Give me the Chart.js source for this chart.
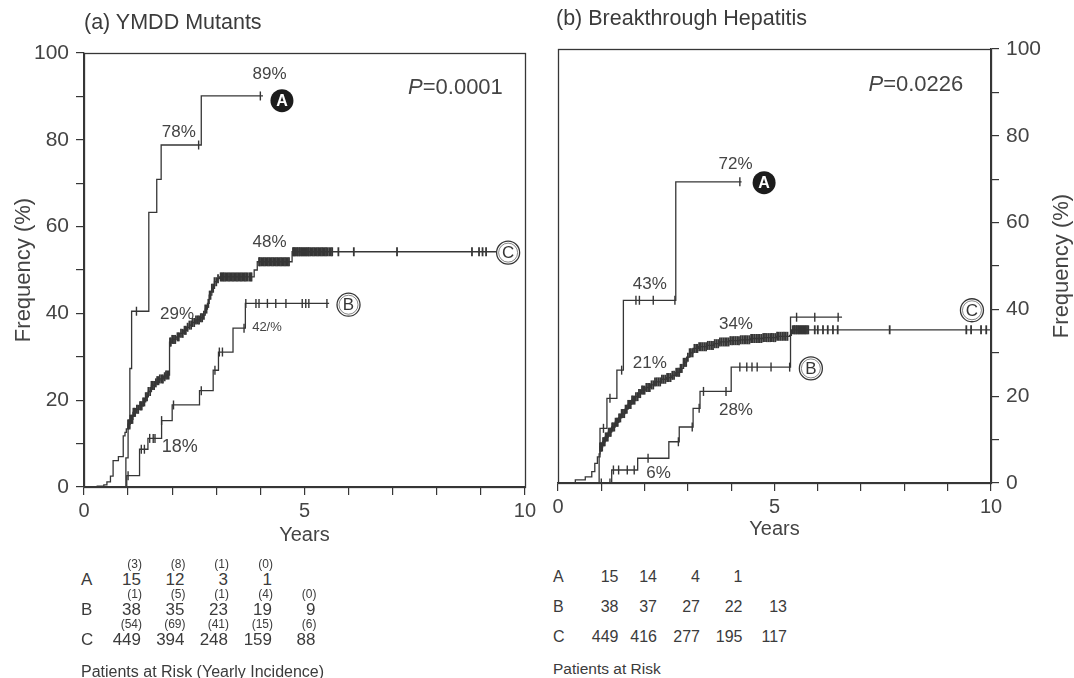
<!DOCTYPE html>
<html><head><meta charset="utf-8">
<script src="https://cdn.jsdelivr.net/npm/chart.js@4.4.1/dist/chart.umd.min.js"></script>
<style>
body{margin:0;background:#fff;width:1074px;height:678px;position:relative;overflow:hidden;font-family:"Liberation Sans",Arial,sans-serif;color:#3b3b3b}
canvas{position:absolute;top:0}
.t{position:absolute;white-space:nowrap;line-height:1}
</style></head><body>
<canvas id="cl" width="540" height="560" style="left:0"></canvas>
<canvas id="cr" width="534" height="560" style="left:540px"></canvas>
<script>
// ===== (a) YMDD Mutants: cumulative frequency (%) by years =====
const mutA_t = [0, 0.95, 1.0, 1.04, 1.08, 1.47, 1.65, 1.75, 2.66];
const mutA_v = [0, 6.7, 13.4, 27.3, 40.5, 63.3, 70.9, 78.8, 90.1];
const mutA_end = 4.06;
const mutA_cens = [1.19, 2.6, 4.0];

const mutB_t = [0, 0.97, 1.26, 1.45, 1.76, 2.0, 2.62, 2.93, 3.05, 3.38, 3.66];
const mutB_v = [0, 2.6, 8.7, 11.2, 15.3, 18.9, 22.2, 26.9, 31.1, 36.6, 42.3];
const mutB_end = 5.56;
const mutB_cens = [1.0, 1.3, 1.37, 1.49, 1.57, 1.61, 1.76, 2.03, 2.66, 2.97, 3.07, 3.14, 3.63, 3.67, 3.9, 3.97, 4.16, 4.35, 4.58, 4.95, 5.03, 5.1, 5.51];

const mutC_t = [0, 0.3, 0.45, 0.52, 0.6, 0.66, 0.78, 0.89, 0.93, 0.96, 1.0, 1.05, 1.11, 1.17, 1.24, 1.34, 1.4, 1.46, 1.53, 1.6, 1.66, 1.72, 1.8, 1.86, 1.94, 2.0, 2.09, 2.17, 2.25, 2.32, 2.39, 2.46, 2.54, 2.62, 2.69, 2.75, 2.8, 2.84, 2.9, 2.96, 3.02, 3.07, 3.86, 3.93, 4.72];
const mutC_v = [0, 0.2, 0.5, 1.2, 2.5, 6.1, 7.0, 11.8, 12.6, 13.4, 14.5, 15.6, 17.2, 17.9, 18.7, 19.6, 20.8, 22.0, 23.4, 24.0, 24.5, 24.9, 25.4, 25.8, 33.4, 34.0, 34.6, 35.4, 36.1, 36.8, 37.3, 37.9, 38.5, 39.0, 39.6, 41.0, 42.3, 44.2, 45.8, 47.3, 48.0, 48.4, 50.0, 51.9, 54.2];
const mutC_end = 9.86;
const mutC_cens = [1.0, 1.01, 1.03, 1.05, 1.07, 1.08, 1.1, 1.12, 1.14, 1.16, 1.2, 1.23, 1.27, 1.29, 1.31, 1.34, 1.37, 1.4, 1.43, 1.46, 1.5, 1.53, 1.56, 1.59, 1.63, 1.66, 1.69, 1.72, 1.76, 1.79, 1.83, 1.86, 1.89, 1.92, 1.95, 1.97, 2.0, 2.04, 2.07, 2.12, 2.15, 2.2, 2.24, 2.28, 2.31, 2.35, 2.39, 2.43, 2.46, 2.5, 2.54, 2.58, 2.61, 2.65, 2.68, 2.72, 2.75, 2.78, 2.82, 2.85, 2.87, 2.9, 2.93, 2.96, 3.0, 3.04, 3.1, 3.12, 3.15, 3.17, 3.2, 3.23, 3.26, 3.29, 3.32, 3.35, 3.38, 3.41, 3.44, 3.47, 3.5, 3.53, 3.56, 3.59, 3.62, 3.65, 3.68, 3.71, 3.75, 3.78, 3.8, 3.97, 3.99, 4.02, 4.05, 4.08, 4.11, 4.14, 4.17, 4.2, 4.23, 4.26, 4.29, 4.32, 4.35, 4.38, 4.41, 4.44, 4.47, 4.5, 4.53, 4.56, 4.59, 4.62, 4.65, 4.74, 4.76, 4.78, 4.8, 4.83, 4.85, 4.88, 4.9, 4.93, 4.95, 4.98, 5.0, 5.03, 5.05, 5.08, 5.1, 5.13, 5.16, 5.19, 5.22, 5.25, 5.28, 5.31, 5.34, 5.37, 5.4, 5.43, 5.46, 5.49, 5.52, 5.56, 5.6, 5.63, 5.77, 6.12, 7.1, 8.8, 8.96, 9.04, 9.12];

// ===== (b) Breakthrough Hepatitis =====
const hepA_t = [0, 0.95, 0.97, 1.13, 1.36, 1.51, 2.72];
const hepA_v = [0, 6.7, 12.6, 19.5, 26.0, 42.1, 69.4];
const hepA_end = 4.24;
const hepA_cens = [1.05, 1.2, 1.47, 1.8, 1.88, 2.2, 2.7, 4.2];

const hepB_t = [0, 1.24, 1.84, 2.56, 2.8, 3.12, 3.28, 4.0, 5.37];
const hepB_v = [0, 3.0, 5.7, 9.5, 12.9, 17.2, 21.1, 26.7, 38.2];
const hepB_end = 6.56;
const hepB_cens = [1.0, 1.2, 1.28, 1.4, 1.6, 1.76, 2.08, 2.78, 3.1, 3.26, 3.36, 3.88, 4.2, 4.36, 4.48, 4.6, 4.92, 5.35, 5.51, 5.93, 6.47];

const hepC_t = [0, 0.4, 0.63, 0.78, 0.85, 0.91, 0.97, 1.03, 1.09, 1.16, 1.24, 1.32, 1.4, 1.47, 1.55, 1.62, 1.7, 1.78, 1.85, 1.93, 2.03, 2.13, 2.24, 2.37, 2.5, 2.63, 2.72, 2.82, 2.9, 2.97, 3.04, 3.12, 3.25, 3.43, 3.6, 3.74, 3.95, 4.2, 4.45, 4.74, 5.05, 5.35, 5.39];
const hepC_v = [0, 0.7, 1.4, 2.6, 4.5, 6.0, 8.3, 9.5, 10.6, 11.7, 12.9, 14.0, 15.0, 16.0, 17.0, 18.1, 19.1, 19.9, 20.6, 21.4, 22.0, 22.6, 23.3, 23.9, 24.3, 24.8, 25.5, 26.4, 27.8, 29.0, 30.0, 31.0, 31.4, 31.7, 32.1, 32.5, 32.8, 33.0, 33.3, 33.5, 33.8, 34.0, 35.3];
const hepC_end = 10.0;
const hepC_cens = [0.97, 0.99, 1.0, 1.02, 1.04, 1.06, 1.08, 1.1, 1.12, 1.15, 1.17, 1.2, 1.22, 1.25, 1.27, 1.3, 1.33, 1.36, 1.38, 1.41, 1.44, 1.47, 1.5, 1.53, 1.56, 1.59, 1.62, 1.65, 1.68, 1.71, 1.74, 1.77, 1.8, 1.84, 1.87, 1.9, 1.94, 1.97, 2.0, 2.04, 2.08, 2.12, 2.16, 2.2, 2.24, 2.28, 2.32, 2.36, 2.4, 2.44, 2.48, 2.52, 2.56, 2.6, 2.64, 2.68, 2.73, 2.77, 2.8, 2.83, 2.86, 2.9, 2.93, 2.96, 3.0, 3.04, 3.07, 3.11, 3.15, 3.19, 3.22, 3.26, 3.3, 3.34, 3.38, 3.42, 3.46, 3.5, 3.54, 3.58, 3.62, 3.66, 3.7, 3.74, 3.78, 3.82, 3.86, 3.9, 3.94, 3.98, 4.02, 4.06, 4.1, 4.14, 4.18, 4.22, 4.26, 4.3, 4.34, 4.38, 4.42, 4.46, 4.5, 4.54, 4.58, 4.62, 4.66, 4.7, 4.74, 4.78, 4.82, 4.86, 4.9, 4.94, 4.98, 5.02, 5.06, 5.1, 5.14, 5.18, 5.22, 5.26, 5.3, 5.42, 5.45, 5.47, 5.5, 5.52, 5.55, 5.57, 5.6, 5.62, 5.65, 5.67, 5.7, 5.72, 5.75, 5.78, 5.93, 6.0, 6.12, 6.23, 6.35, 6.46, 7.66, 9.43, 9.54, 9.77, 9.89];

// ===== Patients at risk tables =====
const riskRows = ['A', 'B', 'C'];
const riskA_a = [15, 12, 3, 1];        const incA_a = [3, 8, 1, 0];
const riskB_a = [38, 35, 23, 19, 9];   const incB_a = [1, 5, 1, 4, 0];
const riskC_a = [449, 394, 248, 159, 88]; const incC_a = [54, 69, 41, 15, 6];
const riskA_b = [15, 14, 4, 1];
const riskB_b = [38, 37, 27, 22, 13];
const riskC_b = [449, 416, 277, 195, 117];

// ---------------------------------------------------------------
const FONT = '"Liberation Sans", Arial, sans-serif';
const INK = '#363636';
Chart.defaults.font.family = FONT;
Chart.defaults.color = INK;

function stepPoints(T, V, end) {
  const pts = T.map((t, i) => ({x: t, y: V[i]}));
  pts.push({x: end, y: V[V.length - 1]});
  return pts;
}
function levelAt(T, V, t) { let v = V[0]; for (let i = 0; i < T.length; i++) if (T[i] <= t) v = V[i]; return v; }
function curveSets(T, V, end, C, w) {
  return [
    {data: stepPoints(T, V, end), stepped: 'before', borderColor: INK, borderWidth: 1.3, pointRadius: 0, fill: false},
    {data: C.map(t => ({x: t, y: levelAt(T, V, t)})), showLine: false, pointStyle: 'line', rotation: 90,
     pointRadius: 4.5, pointHoverRadius: 4.5, borderColor: INK, pointBorderColor: INK, borderWidth: w, pointBorderWidth: w}
  ];
}

const annotPlugin = {
  id: 'annot',
  afterDatasetsDraw(chart, args, o) {
    const {ctx, chartArea: a, scales: {x, y}} = chart;
    ctx.save();
    ctx.strokeStyle = INK; ctx.lineWidth = 1.3;
    ctx.strokeRect(Math.round(a.left) + 0.5, Math.round(a.top) + 0.5, Math.round(a.right - a.left), Math.round(a.bottom - a.top));
    ctx.textAlign = 'center'; ctx.textBaseline = 'middle';
    (o.texts || []).forEach(([s, tx, ty, size]) => {
      ctx.fillStyle = '#444'; ctx.font = size + 'px ' + FONT;
      ctx.fillText(s, x.getPixelForValue(tx), y.getPixelForValue(ty));
    });
    (o.marks || []).forEach(([s, tx, ty, filled]) => {
      const px = x.getPixelForValue(tx), py = y.getPixelForValue(ty);
      ctx.beginPath(); ctx.arc(px, py, 11.5, 0, Math.PI * 2);
      if (filled) { ctx.fillStyle = '#1c1c1c'; ctx.fill(); ctx.fillStyle = '#fff'; ctx.font = 'bold 16px ' + FONT; }
      else {
        ctx.fillStyle = '#fff'; ctx.fill(); ctx.lineWidth = 1.3; ctx.strokeStyle = INK; ctx.stroke();
        ctx.beginPath(); ctx.arc(px, py, 9.5, 0, Math.PI * 2); ctx.lineWidth = 0.6; ctx.stroke();
        ctx.fillStyle = INK; ctx.font = '17px ' + FONT;
      }
      ctx.fillText(s, px, py + 1);
    });
    if (o.pval) {
      const [txt, tx, ty] = o.pval;
      const px = x.getPixelForValue(tx), py = y.getPixelForValue(ty);
      ctx.textAlign = 'left'; ctx.fillStyle = '#444';
      ctx.font = '22px ' + FONT; const w2 = ctx.measureText(txt).width;
      ctx.font = 'italic 22px ' + FONT; const w1 = ctx.measureText('P').width;
      ctx.fillText('P', px - w1 - w2, py);
      ctx.font = '22px ' + FONT; ctx.fillText(txt, px - w2, py);
    }
    if (o.sideTitle) {
      const [txt, cx] = o.sideTitle;
      ctx.translate(cx, (a.top + a.bottom) / 2); ctx.rotate(-Math.PI / 2);
      ctx.textAlign = 'center'; ctx.fillStyle = '#444'; ctx.font = '22px ' + FONT;
      ctx.fillText(txt, 0, 0);
    }
    ctx.restore();
  }
};

function makeChart(id, sets, cfg) {
  return new Chart(document.getElementById(id), {
    type: 'line',
    data: {datasets: sets},
    plugins: [annotPlugin],
    options: {
      responsive: false, maintainAspectRatio: false, animation: false,
      layout: {padding: cfg.padding},
      plugins: {legend: {display: false}, tooltip: {enabled: false}, annot: cfg.annot},
      scales: {
        x: {type: 'linear', min: 0, max: 10,
            afterFit(s) { s.height = cfg.xh; },
            ticks: {stepSize: 1, autoSkip: false, maxRotation: 0, padding: 4, font: {size: 20}, color: '#444',
                    callback: v => (v % 5 === 0 ? String(v) : '')},
            grid: {drawOnChartArea: false, drawTicks: true, tickLength: 8, color: INK, lineWidth: 1.2},
            border: {display: true, color: INK, width: 1.3},
            title: {display: true, text: 'Years', font: {size: 20}, color: '#444', padding: {top: 0, bottom: cfg.xtpad}}},
        y: {type: 'linear', min: 0, max: 100, position: cfg.ypos,
            afterFit(s) { s.width = cfg.yw; },
            ticks: {stepSize: 10, autoSkip: false, padding: 7, font: {size: 21}, color: '#444',
                    callback: v => (v % 20 === 0 ? String(v) : '')},
            grid: {drawOnChartArea: false, drawTicks: true, tickLength: 8, color: INK, lineWidth: 1.2},
            border: {display: true, color: INK, width: 1.3},
            title: {display: cfg.ypos === 'left', text: 'Frequency (%)', font: {size: 22}, color: '#444', padding: {top: 11, bottom: 0}}}
      }
    }
  });
}

makeChart('cl', [
  ...curveSets(mutA_t, mutA_v, mutA_end, mutA_cens, 1.4),
  ...curveSets(mutB_t, mutB_v, mutB_end, mutB_cens, 1.4),
  ...curveSets(mutC_t, mutC_v, mutC_end, mutC_cens, 1.8)
], {
  padding: {left: 0, right: 13, top: 53, bottom: 0}, xh: 73, yw: 84, ypos: 'left', xtpad: 13,
  annot: {
    texts: [['89%', 4.21, 95.2, 17], ['78%', 2.15, 81.7, 17], ['48%', 4.21, 56.3, 17], ['29%', 2.11, 39.7, 17],
            ['42/%', 4.15, 36.7, 13], ['18%', 2.17, 9.3, 18]],
    marks: [['A', 4.49, 89.0, true], ['B', 6.0, 42.0, false], ['C', 9.62, 54.0, false]],
    pval: ['=0.0001', 9.5, 91.9]
  }
});

makeChart('cr', [
  ...curveSets(hepA_t, hepA_v, hepA_end, hepA_cens, 1.4),
  ...curveSets(hepB_t, hepB_v, hepB_end, hepB_cens, 1.4),
  ...curveSets(hepC_t, hepC_v, hepC_end, hepC_cens, 1.8)
], {
  padding: {left: 18, right: 0, top: 49, bottom: 0}, xh: 77, yw: 83, ypos: 'right', xtpad: 19,
  annot: {
    texts: [['72%', 4.1, 73.4, 17], ['43%', 2.12, 45.8, 17], ['21%', 2.12, 27.6, 17], ['34%', 4.11, 36.6, 17],
            ['28%', 4.11, 16.8, 17], ['6%', 2.32, 2.2, 17]],
    marks: [['A', 4.76, 69.2, true], ['B', 5.84, 26.4, false], ['C', 9.56, 39.8, false]],
    pval: ['=0.0226', 9.36, 91.7],
    sideTitle: ['Frequency (%)', 522]
  }
});

// ---------- HTML text: panel titles and at-risk tables ----------
function txt(s, x, y, size, align) {
  const d = document.createElement('div'); d.className = 't'; d.textContent = s;
  d.style.fontSize = size + 'px'; d.style.left = x + 'px'; d.style.top = y + 'px';
  d.style.transform = align === 'right' ? 'translate(-100%,-50%)' : 'translate(0,-50%)';
  document.body.appendChild(d);
}
txt('(a) YMDD Mutants', 84, 23, 21.5);
txt('(b) Breakthrough Hepatitis', 556, 19, 21.5);

const colA = [141, 184.5, 228, 272, 315.5];
const rowsA = [[riskA_a, incA_a], [riskB_a, incB_a], [riskC_a, incC_a]];
const yMainA = [579, 609, 639], yIncA = [564, 594, 624];
rowsA.forEach(([risk, inc], r) => {
  txt(riskRows[r], 81, yMainA[r], 17);
  risk.forEach((n, i) => txt(String(n), colA[i], yMainA[r], 17, 'right'));
  inc.forEach((n, i) => txt('(' + n + ')', colA[i] + 1, yIncA[r], 12, 'right'));
});
txt('Patients at Risk (Yearly Incidence)', 81, 672, 16);

const colB = [618.5, 657, 700, 742.5, 787];
const rowsB = [riskA_b, riskB_b, riskC_b];
const yMainB = [577, 607, 637];
rowsB.forEach((risk, r) => {
  txt(riskRows[r], 553, yMainB[r], 16);
  risk.forEach((n, i) => txt(String(n), colB[i], yMainB[r], 16, 'right'));
});
txt('Patients at Risk', 553, 669, 15.5);
</script>
</body></html>
